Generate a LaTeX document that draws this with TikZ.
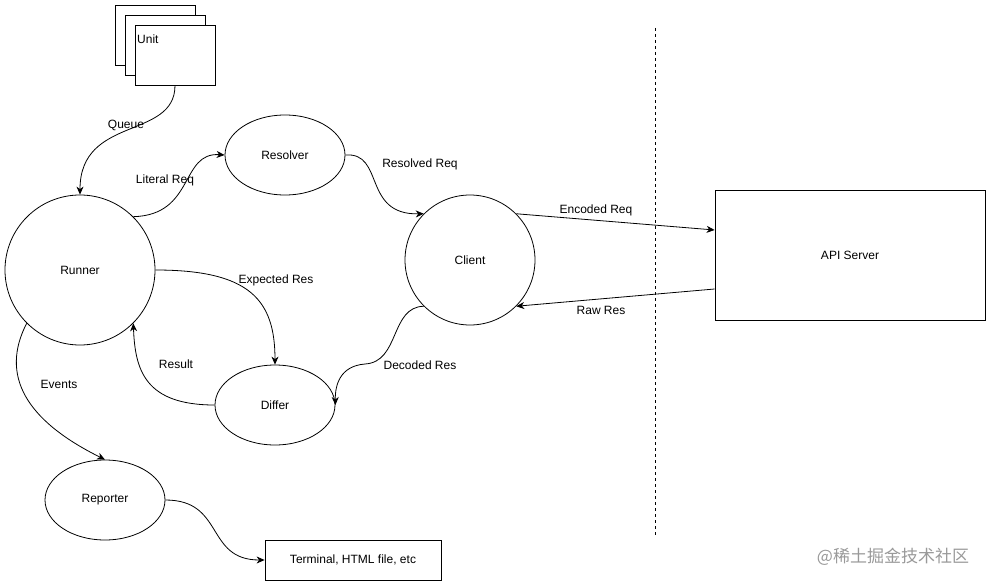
\documentclass[tikz,border=0pt]{standalone}
\usepackage{fontspec}
\setmainfont{Liberation Sans}
\newfontfamily\cjkfont{Noto Sans CJK SC}
\usetikzlibrary{shapes.geometric,arrows.meta}
\begin{document}
\begin{tikzpicture}[x=1pt,y=-1pt,
  every node/.style={font=\fontsize{12}{14}\selectfont},
  line/.style={line width=0.8pt},
  arr/.style={line, -{Stealth[length=8pt,width=7pt,inset=2.5pt]}},
  bigcircle/.style={draw, line width=0.8pt, circle, inner sep=0pt},
  oval/.style={draw, line width=0.8pt, ellipse, minimum width=120pt, minimum height=80pt, inner sep=0pt},
  box/.style={draw, line width=0.8pt, rectangle, fill=white, inner sep=0pt},
  lbl/.style={inner sep=1pt}]
\useasboundingbox (0,0) rectangle (991,586);

% unit stack
\node[box, minimum width=80pt, minimum height=60pt] (unitA) at (155,35) {};
\node[box, minimum width=80pt, minimum height=60pt] (unitB) at (165,45) {};
\node[box, minimum width=80pt, minimum height=60pt] (unit) at (175,55) {};
\node[anchor=west, inner sep=0pt] (unittext) at (137,39) {Unit};

% main nodes
\node[bigcircle, minimum size=150pt] (runner) at (80,270) {Runner};
\node[oval] (resolver) at (285,155) {Resolver};
\node[bigcircle, minimum size=130pt] (client) at (470,260) {Client};
\node[oval] (differ) at (275,405) {Differ};
\node[oval] (reporter) at (105,500) {Reporter};
\node[box, minimum width=176pt, minimum height=40pt] (terminal) at (353,560) {Terminal, HTML file, etc};
\node[box, minimum width=270pt, minimum height=130pt] (api) at (850,255) {API Server};

% dashed boundary
\coordinate (dtop) at (655,28);
\coordinate (dbot) at (655,535);
\draw[line width=0.8pt, dash pattern=on 3pt off 3pt] (dtop) -- (dbot);

% connectors
\draw[arr] (unit.south) .. controls (175,140) and (80,115) .. (runner.north);
\draw[arr] (runner.45) .. controls (195,215) and (180,152) .. (resolver.west);
\draw[arr] (resolver.east) .. controls (385,152) and (362,215) .. (client.135);
\draw[arr] (client.45) -- ([yshift=25pt]api.west);
\draw[arr] ([yshift=-34pt]api.west) -- (client.-45);
\draw[arr] (runner.east) .. controls (250,270) and (275,300) .. (differ.north);
\draw[arr] (differ.west) .. controls (145,405) and (135,370) .. (runner.-45);
\draw[arr] (client.225) .. controls (390,307) and (400,362) .. (365,364) .. controls (340,366) and (335,385) .. (differ.east);
\draw[arr] (runner.225) .. controls (0,375) and (25,420) .. (reporter.north);
\draw[arr] (reporter.east) .. controls (225,500) and (205,560) .. (terminal.west);

% labels
\node[lbl] (lqueue) at (126,125) {Queue};
\node[lbl] (lliteral) at (165,180) {Literal Req};
\node[lbl] (lresolved) at (420,164) {Resolved Req};
\node[lbl] (lencoded) at (596,210) {Encoded Req};
\node[lbl] (lraw) at (601,310) {Raw Res};
\node[lbl] (lexpected) at (276,280) {Expected Res};
\node[lbl] (lresult) at (176,364) {Result};
\node[lbl] (ldecoded) at (420,365) {Decoded Res};
\node[lbl] (levents) at (59,384) {Events};

% watermark
\node[text=black!40, font=\cjkfont\fontsize{17}{20}\selectfont, inner sep=0pt] (wm) at (893,557) {@稀土掘金技术社区};
\end{tikzpicture}
\end{document}
